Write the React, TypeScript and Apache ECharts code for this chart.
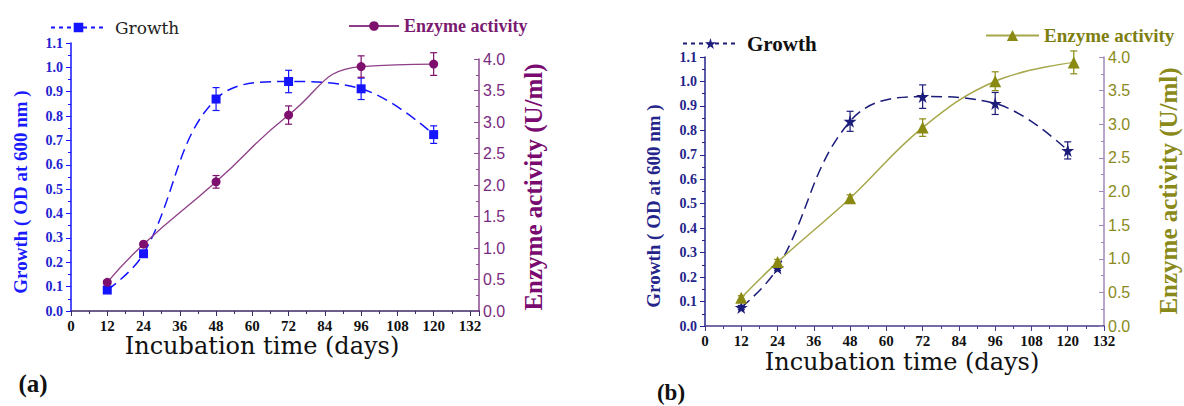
import React, { useEffect, useRef } from "react";
import * as echarts from "echarts";

// ---------- data ----------
const xTicks = [0, 12, 24, 36, 48, 60, 72, 84, 96, 108, 120, 132];
const daysA = [12, 24, 48, 72, 96, 120];
const growthA = [0.086, 0.235, 0.87, 0.942, 0.912, 0.724];
const growthAErr = [0.008, 0.01, 0.047, 0.046, 0.044, 0.036];
const enzymeA = [0.455, 1.06, 2.05, 3.11, 3.88, 3.92];
const enzymeAErr = [0.03, 0.04, 0.1, 0.145, 0.17, 0.18];

const daysBGrowth = [12, 24, 48, 72, 96, 120];
const growthB = [0.076, 0.237, 0.837, 0.938, 0.91, 0.718];
const growthBErr = [0.008, 0.01, 0.041, 0.048, 0.045, 0.035];
const daysBEnzyme = [12, 24, 48, 72, 96, 122];
const enzymeB = [0.42, 0.95, 1.9, 2.95, 3.64, 3.92];
const enzymeBErr = [0.03, 0.04, 0.05, 0.13, 0.14, 0.17];

const STAR =
  "path://M50,0 L61,35 L98,35 L68,57 L79,91 L50,70 L21,91 L32,57 L2,35 L39,35 Z";

const SERIF = "'Liberation Serif', 'Times New Roman', serif";
const BOOK = "'DejaVu Serif', serif";
const SANS = "'Liberation Sans', Arial, sans-serif";

const pairs = (xs: number[], ys: number[]) => xs.map((x, i) => [x, ys[i]]);
const errs = (xs: number[], ys: number[], es: number[]) =>
  xs.map((x, i) => [x, ys[i] - es[i], ys[i] + es[i]]);

function errorSeries(
  name: string,
  data: number[][],
  color: string,
  xIdx: number,
  yIdx: number
) {
  return {
    type: "custom",
    name,
    xAxisIndex: xIdx,
    yAxisIndex: yIdx,
    data,
    encode: { x: 0, y: [1, 2] },
    z: 3,
    silent: true,
    renderItem: (_p: any, api: any) => {
      const x = api.value(0);
      const lo = api.coord([x, api.value(1)]);
      const hi = api.coord([x, api.value(2)]);
      const w = 3.5;
      const style = { stroke: color, lineWidth: 1.2 };
      return {
        type: "group",
        children: [
          { type: "line", shape: { x1: hi[0], y1: hi[1], x2: lo[0], y2: lo[1] }, style },
          { type: "line", shape: { x1: hi[0] - w, y1: hi[1], x2: hi[0] + w, y2: hi[1] }, style },
          { type: "line", shape: { x1: lo[0] - w, y1: lo[1], x2: lo[0] + w, y2: lo[1] }, style },
        ],
      };
    },
  };
}

function xAxisDef(gridIndex: number, max: number, lineColor: string) {
  return {
    type: "value",
    gridIndex,
    min: 0,
    max,
    interval: 12,
    axisLine: { show: true, onZero: false, lineStyle: { color: lineColor, width: 1.5 } },
    axisTick: { show: true, length: 5, lineStyle: { color: lineColor } },
    minorTick: { show: true, splitNumber: 2, length: 3, lineStyle: { color: lineColor } },
    splitLine: { show: false },
    axisLabel: {
      fontFamily: SERIF,
      fontWeight: "bold",
      fontSize: 15,
      color: "#111",
      margin: 7,
      showMaxLabel: max === 132,
    },
  };
}

function leftAxisDef(gridIndex: number, color: string, labelColor: string) {
  return {
    type: "value",
    gridIndex,
    min: 0,
    max: 1.1,
    interval: 0.1,
    position: "left",
    axisLine: { show: true, onZero: false, lineStyle: { color, width: 1.5 } },
    axisTick: { show: true, length: 5, lineStyle: { color } },
    minorTick: { show: true, splitNumber: 2, length: 3, lineStyle: { color } },
    splitLine: { show: false },
    axisLabel: {
      fontFamily: SERIF,
      fontWeight: "bold",
      fontSize: 14,
      color: labelColor,
      margin: 8,
      formatter: (v: number) => v.toFixed(1),
    },
  };
}

function rightAxisDef(gridIndex: number, color: string, labelColor: string) {
  return {
    type: "value",
    gridIndex,
    min: 0,
    max: 4,
    interval: 0.5,
    position: "right",
    axisLine: { show: true, onZero: false, lineStyle: { color, width: 1.5 } },
    axisTick: { show: true, inside: true, length: 5, lineStyle: { color } },
    minorTick: { show: true, splitNumber: 2, length: 3, lineStyle: { color } },
    splitLine: { show: false },
    axisLabel: {
      fontFamily: SANS,
      fontSize: 16,
      color: labelColor,
      margin: 4,
      formatter: (v: number) => v.toFixed(1),
    },
  };
}

function txt(
  text: string,
  x: number,
  y: number,
  fill: string,
  fontSize: number,
  fontFamily: string,
  fontWeight: string,
  vertical = false
) {
  return {
    type: "text",
    x,
    y,
    rotation: vertical ? Math.PI / 2 : 0,
    style: {
      text,
      fill,
      fontSize,
      fontFamily,
      fontWeight,
      align: "center",
      verticalAlign: "middle",
    },
  };
}

export default function App() {
  const ref = useRef<HTMLDivElement>(null);

  useEffect(() => {
    if (!ref.current) return;
    const chart = echarts.init(ref.current, null, { renderer: "svg" });

    const blueA = "#1414ff";
    const purpleMark = "#7d0f6e";
    const purpleLine = "#8e3e86";
    const navy = "#1c1c7a";
    const oliveMark = "#8a8a12";
    const oliveLine = "#a6a64a";

    const option: any = {
      animation: false,
      backgroundColor: "#ffffff",
      grid: [
        { left: 71, right: 705, top: 43, bottom: 95 }, // (a) growth
        { left: 71, right: 705, top: 59, bottom: 95 }, // (a) enzyme
        { left: 705, right: 80, top: 57, bottom: 80 }, // (b)
      ],
      xAxis: [
        xAxisDef(0, 135, "#3c2a66"),
        { ...xAxisDef(1, 135, "#3c2a66"), show: false },
        xAxisDef(2, 132, "#4a3a8a"),
      ],
      yAxis: [
        leftAxisDef(0, blueA, "#2222d0"),
        rightAxisDef(1, "#8a4a90", "#7a2a80"),
        leftAxisDef(2, "#24248a", "#24248a"),
        rightAxisDef(2, "#a088b8", "#8a8a20"),
      ],
      legend: [
        {
          data: ["Growth (a)"],
          left: 45,
          top: 14,
          itemWidth: 55,
          itemHeight: 12,
          lineStyle: { type: [4, 4] },
          formatter: () => "Growth",
          textStyle: { fontFamily: BOOK, fontSize: 17, color: "#222", padding: [0, 0, 0, 4] },
        },
        {
          data: ["Enzyme activity (a)"],
          left: 343,
          top: 12,
          itemWidth: 50,
          itemHeight: 12,
          formatter: () => "Enzyme activity",
          textStyle: { fontFamily: SERIF, fontWeight: "bold", fontSize: 18, color: "#7a1a70" },
        },
        {
          data: ["Growth (b)"],
          left: 677,
          top: 28,
          itemWidth: 55,
          itemHeight: 14,
          lineStyle: { type: [4, 4] },
          formatter: () => "Growth",
          textStyle: { fontFamily: SERIF, fontWeight: "bold", fontSize: 21, color: "#111", padding: [0, 0, 0, 4] },
        },
        {
          data: ["Enzyme activity (b)"],
          left: 980,
          top: 21,
          itemWidth: 53,
          itemHeight: 14,
          formatter: () => "Enzyme activity",
          textStyle: { fontFamily: SERIF, fontWeight: "bold", fontSize: 19, color: "#7e7e10" },
        },
      ],
      series: [
        errorSeries("errGA", errs(daysA, growthA, growthAErr), blueA, 0, 0),
        {
          name: "Growth (a)",
          type: "line",
          xAxisIndex: 0,
          yAxisIndex: 0,
          data: pairs(daysA, growthA),
          smooth: 0.4,
          symbol: "rect",
          symbolSize: 9,
          itemStyle: { color: blueA },
          lineStyle: { color: blueA, width: 1.5, type: [11, 6] },
          z: 4,
        },
        errorSeries("errEA", errs(daysA, enzymeA, enzymeAErr), purpleMark, 1, 1),
        {
          name: "Enzyme activity (a)",
          type: "line",
          xAxisIndex: 1,
          yAxisIndex: 1,
          data: pairs(daysA, enzymeA),
          smooth: 0.5,
          symbol: "circle",
          symbolSize: 9,
          itemStyle: { color: purpleMark },
          lineStyle: { color: purpleLine, width: 1.3 },
          z: 4,
        },
        errorSeries("errGB", errs(daysBGrowth, growthB, growthBErr), navy, 2, 2),
        {
          name: "Growth (b)",
          type: "line",
          xAxisIndex: 2,
          yAxisIndex: 2,
          data: pairs(daysBGrowth, growthB),
          smooth: 0.4,
          symbol: STAR,
          symbolSize: 13,
          itemStyle: { color: navy },
          lineStyle: { color: navy, width: 1.5, type: [11, 6] },
          z: 4,
        },
        errorSeries("errEB", errs(daysBEnzyme, enzymeB, enzymeBErr), oliveMark, 2, 3),
        {
          name: "Enzyme activity (b)",
          type: "line",
          xAxisIndex: 2,
          yAxisIndex: 3,
          data: pairs(daysBEnzyme, enzymeB),
          smooth: 0.4,
          symbol: "triangle",
          symbolSize: 12,
          itemStyle: { color: oliveMark },
          lineStyle: { color: oliveLine, width: 1.5 },
          z: 4,
        },
      ],
      graphic: [
        txt("Growth ( OD at 600 nm )", 20, 192, "#1a1aff", 19, SERIF, "bold", true),
        txt("Enzyme activity (U/ml)", 533, 187, "#7a0a70", 25, SERIF, "bold", true),
        txt("Incubation time (days)", 262, 346, "#111", 24, BOOK, "normal"),
        txt("(a)", 33, 383, "#111", 25, SERIF, "bold"),
        txt("Growth ( OD at 600 nm )", 653, 206, "#24248a", 19, SERIF, "bold", true),
        txt("Enzyme activity (U/ml)", 1168, 191, "#8a8a1a", 25, SERIF, "bold", true),
        txt("Incubation time (days)", 902, 362, "#111", 24, BOOK, "normal"),
        txt("(b)", 671, 392, "#111", 23, SERIF, "bold"),
      ],
    };

    chart.setOption(option);
    return () => chart.dispose();
  }, []);

  return (
    <div
      ref={ref}
      style={{ position: "fixed", left: 0, top: 0, width: 1184, height: 406, background: "#fff" }}
    />
  );
}
